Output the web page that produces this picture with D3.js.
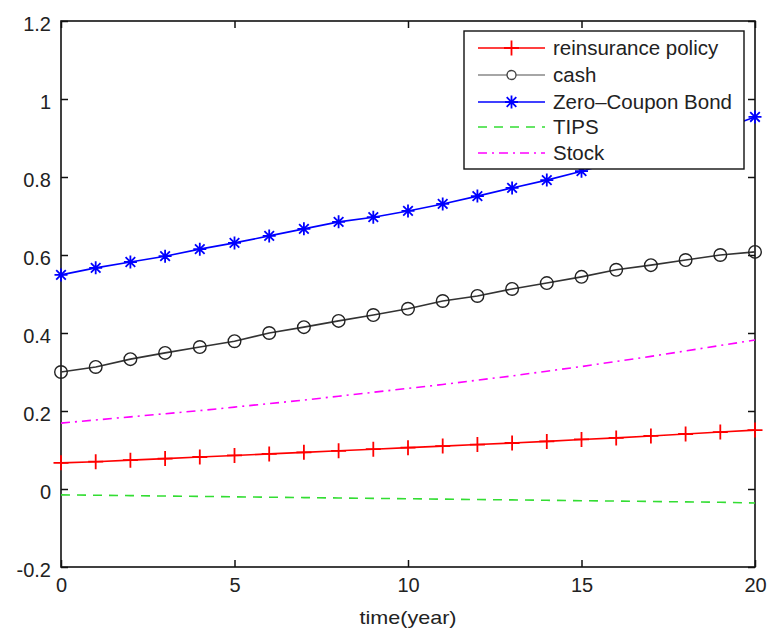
<!DOCTYPE html>
<html><head><meta charset="utf-8">
<script src="https://cdn.jsdelivr.net/npm/d3@7"></script>
<style>body{margin:0;background:#fff}svg{display:block;font-family:"Liberation Sans",Arial,sans-serif}</style>
</head><body><svg id="c" width="769" height="633"></svg>
<script>
const years = d3.range(0, 21);
const reinsurance = [0.067,0.070,0.074,0.078,0.082,0.086,0.090,0.094,0.098,0.102,0.106,0.110,0.114,0.118,0.122,0.127,0.131,0.136,0.141,0.146,0.151];
const cash = [0.300,0.313,0.333,0.349,0.364,0.379,0.400,0.415,0.431,0.446,0.462,0.482,0.495,0.513,0.528,0.544,0.562,0.574,0.587,0.600,0.608];
const bond = [0.549,0.567,0.582,0.597,0.615,0.631,0.649,0.667,0.685,0.697,0.713,0.731,0.751,0.772,0.792,0.815,0.840,0.865,0.892,0.922,0.954];
const tips = [-0.015,-0.016,-0.017,-0.018,-0.019,-0.020,-0.021,-0.022,-0.023,-0.024,-0.025,-0.026,-0.027,-0.028,-0.029,-0.030,-0.031,-0.032,-0.033,-0.034,-0.036];
const stock = [0.169,0.177,0.185,0.193,0.201,0.210,0.219,0.228,0.238,0.248,0.258,0.268,0.279,0.290,0.302,0.314,0.327,0.340,0.354,0.368,0.382];
const xTicks = [0,5,10,15,20];
const yTicks = [-0.2,0,0.2,0.4,0.6,0.8,1,1.2];
const xLabel = "time(year)";

const series = [
  {name:"reinsurance policy", values:reinsurance, color:"#ff0000", dash:null, marker:"plus"},
  {name:"cash", values:cash, color:"#333333", legendColor:"#888888", dash:null, marker:"circle"},
  {name:"Zero\u2013Coupon Bond", values:bond, color:"#0000ff", dash:null, marker:"star"},
  {name:"TIPS", values:tips, color:"#33dd33", dash:"9,7", marker:null},
  {name:"Stock", values:stock, color:"#ff00ff", dash:"9,5,2,5", marker:null}
];

const svg = d3.select("#c");
const L=61, R=755, T=21, B=567;
const x = d3.scaleLinear().domain([0,20]).range([L,R]);
const y = d3.scaleLinear().domain([-0.2,1.2]).range([B,T]);

svg.append("rect").attr("x",L).attr("y",T).attr("width",R-L).attr("height",B-T)
  .attr("fill","none").attr("stroke","#111").attr("stroke-width",1.6);

const tl = 7;
const fmtY = d => String(d);
const axL = d3.axisLeft(y).tickValues(yTicks).tickSizeInner(-tl).tickSizeOuter(0).tickPadding(10).tickFormat(fmtY);
const gL = svg.append("g").attr("transform",`translate(${L},0)`).call(axL);
const axR = d3.axisRight(y).tickValues(yTicks).tickSizeInner(-tl).tickSizeOuter(0).tickFormat("");
const gR = svg.append("g").attr("transform",`translate(${R},0)`).call(axR);
const axB = d3.axisBottom(x).tickValues(xTicks).tickSizeInner(-tl).tickSizeOuter(0).tickPadding(11).tickFormat(d3.format("d"));
const gB = svg.append("g").attr("transform",`translate(0,${B})`).call(axB);
const axT = d3.axisTop(x).tickValues(xTicks).tickSizeInner(-tl).tickSizeOuter(0).tickFormat("");
const gT = svg.append("g").attr("transform",`translate(0,${T})`).call(axT);
[gL,gR,gB,gT].forEach(g=>{
  g.select(".domain").remove();
  g.selectAll(".tick line").attr("stroke","#111").attr("stroke-width",1.5);
  g.selectAll("text").attr("fill","#222").attr("font-size",20).attr("font-family","Liberation Sans, Arial, sans-serif");
});
gL.selectAll("text").attr("dy","0.45em");

svg.append("text").attr("x",(L+R)/2).attr("y",624).attr("text-anchor","middle")
  .attr("font-size",19).attr("fill","#222")
  .attr("textLength",97).attr("lengthAdjust","spacingAndGlyphs").text(xLabel);

const line = d3.line().x((d,i)=>x(years[i])).y(d=>y(d));

function markerPath(type){
  if(type==="plus") return "M-7.5,0L7.5,0M0,-7.5L0,7.5";
  if(type==="star"){
    const r=6.5, r2=4.8;
    return `M${-r},0L${r},0M0,${-r}L0,${r}M${-r2},${-r2}L${r2},${r2}M${-r2},${r2}L${r2},${-r2}`;
  }
  return null;
}
function drawMarker(g, type, color, cx, cy){
  if(type==="circle"){
    g.append("circle").attr("cx",cx).attr("cy",cy).attr("r",6.3)
      .attr("fill","none").attr("stroke","#222").attr("stroke-width",1.4);
  } else if(type){
    g.append("path").attr("d",markerPath(type)).attr("transform",`translate(${cx},${cy})`)
      .attr("fill","none").attr("stroke",color).attr("stroke-width",1.8);
  }
}

const plot = svg.append("g");
series.forEach(s=>{
  plot.append("path").datum(s.values).attr("d",line).attr("fill","none")
    .attr("stroke",s.color).attr("stroke-width",1.6)
    .attr("stroke-dasharray",s.dash);
  if(s.marker){
    const mg = plot.append("g");
    s.values.forEach((v,i)=>drawMarker(mg,s.marker,s.color,x(years[i]),y(v)));
  }
});

const lg = svg.append("g");
lg.append("rect").attr("x",464).attr("y",31).attr("width",280).attr("height",138)
  .attr("fill","#fff").attr("stroke","#111").attr("stroke-width",1.4);
const rowY = [48,75,102,127,153];
series.forEach((s,i)=>{
  const yy=rowY[i];
  lg.append("line").attr("x1",478).attr("x2",545).attr("y1",yy).attr("y2",yy)
    .attr("stroke",s.legendColor||s.color).attr("stroke-width",1.6).attr("stroke-dasharray",s.dash);
  if(s.marker){
    if(s.marker==="circle"){
      lg.append("circle").attr("cx",511.5).attr("cy",yy).attr("r",4.5).attr("fill","#fff")
        .attr("stroke","#444").attr("stroke-width",1.3);
    } else drawMarker(lg,s.marker,s.color,511.5,yy);
  }
  lg.append("text").attr("x",553).attr("y",yy+7).attr("font-size",20.5).attr("fill","#222").text(s.name);
});
</script></body></html>
